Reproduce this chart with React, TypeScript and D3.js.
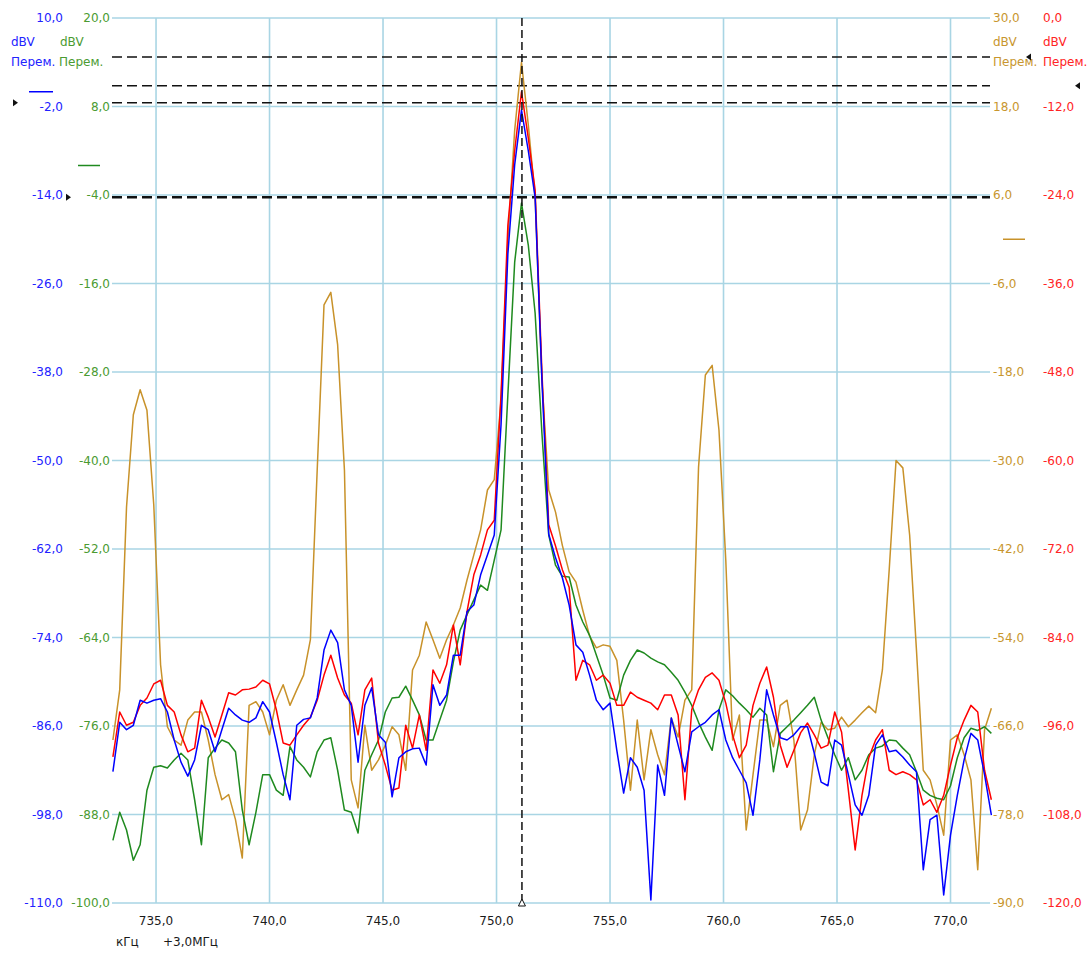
import React from "react";
import * as d3 from "d3";

// Spectrum traces sampled every 0.3 kHz starting at 733.1 kHz (offset +3.0 MHz)
const FREQ_START = 733.1;
const FREQ_STEP = 0.3;

// Blue channel, dBV
const blueTrace = [
  -92.2, -85.5, -86.5, -85.9, -82.5, -82.9, -82.5, -82.3, -84.1, -87.9,
  -90.9, -92.8, -90.6, -85.9, -86.5, -89.5, -86.5, -83.6, -84.5, -85.2,
  -85.5, -84.9, -82.7, -84.1, -88.2, -92.6, -96.0, -85.9, -85.1, -84.9,
  -82.2, -75.7, -73.0, -74.7, -81.1, -83.2, -90.9, -83.2, -80.8, -87.2,
  -88.2, -95.6, -90.3, -89.5, -89.1, -89.0, -91.3, -80.4, -83.2, -81.8,
  -76.4, -76.4, -70.5, -69.6, -65.5, -62.8, -60.1, -45.1, -22.0, -9.9,
  -2.5, -8.0, -14.3, -39.1, -60.0, -63.2, -65.9, -69.6, -75.0, -76.0,
  -79.1, -82.5, -83.8, -82.9, -89.3, -95.1, -90.3, -91.6, -94.7, -109.6,
  -91.3, -95.4, -84.9, -88.6, -92.2, -86.8, -86.1, -85.5, -84.5, -83.8,
  -87.9, -90.3, -92.0, -93.7, -98.1, -90.6, -81.1, -84.5, -87.6, -87.9,
  -87.2, -86.1, -86.1, -89.7, -93.6, -94.1, -87.9, -88.6, -92.6, -96.7,
  -98.1, -95.4, -88.6, -87.2, -89.5, -89.3, -90.2, -91.3, -92.2, -105.5,
  -98.7, -98.1, -108.9, -100.8, -95.4, -90.6, -87.0, -87.9, -92.6, -98.1,
];

// Green channel, dBV
const greenTrace = [
  -91.5, -87.7, -90.1, -94.2, -92.1, -84.7, -81.6, -81.4, -81.7, -80.6,
  -79.7, -80.6, -86.0, -92.1, -80.3, -79.0, -77.9, -78.3, -79.5, -87.4,
  -92.1, -87.7, -82.6, -82.6, -84.7, -85.4, -78.8, -80.6, -81.6, -82.9,
  -79.5, -77.9, -77.6, -82.0, -87.4, -87.7, -90.5, -82.0, -79.9, -77.9,
  -74.1, -72.2, -72.1, -70.6, -72.5, -74.5, -77.9, -77.9, -75.2, -72.5,
  -67.3, -63.0, -60.9, -58.9, -56.9, -57.6, -53.5, -49.4, -31.1, -13.1,
  -5.1, -10.8, -20.0, -36.3, -50.1, -54.2, -55.7, -55.8, -59.6, -61.9,
  -63.7, -66.4, -69.1, -72.2, -72.5, -69.1, -67.1, -65.7, -66.1, -66.8,
  -67.3, -67.7, -68.7, -69.8, -71.4, -73.2, -75.5, -77.5, -79.3, -73.8,
  -71.1, -71.9, -72.9, -73.8, -74.8, -73.6, -74.5, -82.2, -77.0, -76.1,
  -75.2, -74.2, -73.2, -72.1, -75.2, -77.6, -79.9, -82.0, -80.3, -83.3,
  -82.0, -79.9, -79.0, -78.7, -77.9, -78.0, -79.0, -79.9, -82.2, -84.7,
  -85.4, -85.8, -86.0, -84.1, -80.3, -77.6, -76.3, -76.6, -76.1, -77.0,
];

// Orange channel, dBV
const orangeTrace = [
  -67.9, -61.1, -36.3, -23.8, -20.4, -23.2, -36.0, -57.7, -66.1, -67.9,
  -68.6, -65.2, -64.1, -64.1, -67.9, -72.6, -76.0, -75.3, -78.7, -83.9,
  -63.2, -62.7, -64.1, -67.2, -62.5, -60.4, -63.2, -61.1, -59.1, -54.3,
  -31.3, -8.9, -7.2, -14.3, -31.3, -73.3, -77.1, -65.9, -72.0, -70.6,
  -68.6, -66.1, -67.2, -72.0, -58.4, -56.4, -51.9, -54.3, -56.8, -54.3,
  -52.3, -50.0, -46.2, -42.8, -39.4, -34.0, -32.6, -21.8, -0.1, 14.8,
  24.0, 15.5, 5.7, -19.1, -34.0, -37.0, -41.5, -45.1, -46.5, -50.3,
  -53.8, -55.4, -55.0, -55.2, -57.1, -65.2, -74.7, -65.2, -73.3, -66.5,
  -69.9, -72.6, -64.9, -67.5, -62.5, -61.1, -30.9, -18.4, -17.1, -25.9,
  -43.5, -67.9, -64.5, -80.1, -72.6, -65.2, -65.2, -68.8, -63.2, -62.5,
  -67.9, -80.1, -77.4, -69.9, -65.5, -66.5, -66.3, -64.8, -66.1, -65.2,
  -64.2, -63.3, -64.2, -58.4, -44.8, -30.0, -31.0, -40.1, -55.7, -72.0,
  -73.3, -76.7, -80.8, -67.9, -67.2, -69.9, -73.3, -85.5, -66.5, -63.6,
];

// Red channel, dBV
const redTrace = [
  -100.2, -94.1, -95.9, -95.5, -93.2, -92.2, -90.3, -89.8, -93.2, -94.1,
  -97.2, -99.5, -99.0, -92.5, -94.8, -97.5, -94.5, -91.5, -91.8, -91.1,
  -91.0, -90.7, -89.8, -90.3, -93.8, -98.3, -98.6, -97.2, -95.9, -94.8,
  -92.5, -89.1, -86.4, -89.5, -91.8, -92.9, -97.2, -91.1, -89.5, -98.3,
  -101.3, -104.7, -104.4, -95.9, -99.0, -94.5, -99.3, -88.4, -90.2, -87.7,
  -82.3, -87.7, -80.5, -75.5, -72.8, -69.4, -68.1, -51.0, -28.1, -18.0,
  -10.0, -16.3, -23.3, -48.0, -68.7, -71.6, -74.8, -77.2, -89.8, -87.1,
  -87.7, -89.8, -89.1, -90.2, -93.2, -93.2, -91.4, -92.1, -92.5, -92.9,
  -93.8, -91.8, -91.8, -94.5, -106.0, -93.8, -91.1, -89.4, -88.8, -89.8,
  -92.9, -97.2, -100.3, -98.6, -93.2, -90.2, -88.0, -92.1, -98.6, -101.6,
  -99.3, -96.9, -95.6, -97.2, -99.0, -98.6, -94.1, -96.8, -104.7, -112.8,
  -105.4, -100.3, -97.9, -96.5, -102.0, -102.6, -102.2, -102.6, -103.3, -106.7,
  -106.0, -107.7, -105.4, -101.3, -97.6, -95.2, -93.2, -94.1, -102.0, -106.0,
];

const frequencies = blueTrace.map((_, i) => FREQ_START + i * FREQ_STEP);

// Axis tick values
const freqTicks = [735, 740, 745, 750, 755, 760, 765, 770];
const blueTicks = [10, -2, -14, -26, -38, -50, -62, -74, -86, -98, -110];
const greenTicks = [20, 8, -4, -16, -28, -40, -52, -64, -76, -88, -100];
const orangeTicks = [30, 18, 6, -6, -18, -30, -42, -54, -66, -78, -90];
const redTicks = [0, -12, -24, -36, -48, -60, -72, -84, -96, -108, -120];

// Reference marker levels (dBV, each on its own scale) and the cursor frequency
const markerLevels = { blue: -1.5, green: -4.3, orange: 24.7, red: -9.2 };
const cursorFreq = 751.12;

const W = 1091;
const H = 954;
const PLOT = { left: 112, right: 990, top: 18, bottom: 903 };
const FONT = "'DejaVu Sans', Verdana, sans-serif";
const FS = 12;

const fmt = (v: number) => v.toFixed(1).replace(".", ",");

type Channel = {
  key: "blue" | "green" | "orange" | "red";
  values: number[];
  ticks: number[];
  stroke: string;
  text: string;
  side: "left" | "right";
  labelX: number;
  headX: number;
  zeroMark: [number, number];
  markerX: number;
};

const channels: Channel[] = [
  { key: "orange", values: orangeTrace, ticks: orangeTicks, stroke: "#c8922a", text: "#c8962e", side: "right", labelX: 993, headX: 993, zeroMark: [1003, 1025], markerX: 1031 },
  { key: "green", values: greenTrace, ticks: greenTicks, stroke: "#1f8a1f", text: "#4b9b32", side: "left", labelX: 110, headX: 59, zeroMark: [78, 100], markerX: 66 },
  { key: "red", values: redTrace, ticks: redTicks, stroke: "#ff0000", text: "#ff2424", side: "right", labelX: 1043, headX: 1043, zeroMark: [1053, 1075], markerX: 1080 },
  { key: "blue", values: blueTrace, ticks: blueTicks, stroke: "#0000ff", text: "#2222ff", side: "left", labelX: 63, headX: 11, zeroMark: [29, 53], markerX: 13 },
];

export default function App() {
  const x = d3.scaleLinear().domain([733.06, 771.74]).range([PLOT.left, PLOT.right]);
  const yScale = (ticks: number[]) =>
    d3.scaleLinear().domain([ticks[ticks.length - 1], ticks[0]]).range([PLOT.bottom, PLOT.top]);

  const gridY = yScale(blueTicks);
  const cursorX = x(cursorFreq);

  return (
    <svg
      width={W}
      height={H}
      viewBox={`0 0 ${W} ${H}`}
      style={{ position: "absolute", left: 0, top: 0, background: "#fff" }}
      fontFamily={FONT}
    >
      {/* grid */}
      <g stroke="#a9d5e4" strokeWidth={1.6}>
        {blueTicks.map((t) => (
          <line key={"h" + t} x1={PLOT.left} x2={PLOT.right} y1={gridY(t)} y2={gridY(t)} />
        ))}
        {freqTicks.map((f) => (
          <line key={"v" + f} x1={x(f)} x2={x(f)} y1={PLOT.top} y2={PLOT.bottom} />
        ))}
      </g>

      {/* frequency axis */}
      <g fontSize={FS} fill="#1a1a1a" textAnchor="middle">
        {freqTicks.map((f) => (
          <text key={f} x={x(f)} y={921} dominantBaseline="central">
            {fmt(f)}
          </text>
        ))}
      </g>
      <text x={116} y={942} fontSize={FS} fill="#1a1a1a" dominantBaseline="central">кГц</text>
      <text x={163} y={942} fontSize={FS} fill="#1a1a1a" dominantBaseline="central">+3,0МГц</text>

      {/* per-channel level axes, headers and zero marks */}
      {channels.map((c) => {
        const y = yScale(c.ticks);
        const anchor = c.side === "left" ? "end" : "start";
        return (
          <g key={"ax" + c.key} fill={c.text} fontSize={FS}>
            {c.ticks.map((t) => (
              <text key={t} x={c.labelX} y={y(t)} textAnchor={anchor} dominantBaseline="central">
                {fmt(t)}
              </text>
            ))}
            <text x={c.headX + (c.key === "green" ? 1 : 0)} y={42} dominantBaseline="central">
              dBV
            </text>
            <text x={c.headX} y={62} dominantBaseline="central">
              Перем.
            </text>
            {y(0) > PLOT.top + 1 && (
              <line
                x1={c.zeroMark[0]}
                x2={c.zeroMark[1]}
                y1={y(0)}
                y2={y(0)}
                stroke={c.stroke}
                strokeWidth={1.5}
              />
            )}
          </g>
        );
      })}

      {/* marker reference levels */}
      {channels.map((c) => {
        const y = yScale(c.ticks)(markerLevels[c.key]);
        const thick = c.key === "green";
        const m = c.markerX;
        const tri =
          c.side === "left"
            ? `M${m},${y - 3.5} L${m + 5},${y} L${m},${y + 3.5} Z`
            : `M${m},${y - 3.5} L${m - 5},${y} L${m},${y + 3.5} Z`;
        return (
          <g key={"mk" + c.key}>
            <line
              x1={PLOT.left}
              x2={PLOT.right}
              y1={y}
              y2={y}
              stroke="#111"
              strokeWidth={thick ? 2.4 : 1.5}
              strokeDasharray="10 5"
            />
            <path d={tri} fill="#111" />
          </g>
        );
      })}

      {/* traces */}
      {channels.map((c) => {
        const y = yScale(c.ticks);
        const line = d3
          .line<number>()
          .x((_, i) => x(frequencies[i]))
          .y((v) => y(v));
        return (
          <path
            key={"tr" + c.key}
            d={line(c.values) ?? ""}
            fill="none"
            stroke={c.stroke}
            strokeWidth={1.5}
            strokeLinejoin="round"
          />
        );
      })}

      {/* cursor */}
      <line
        x1={cursorX}
        x2={cursorX}
        y1={PLOT.top}
        y2={PLOT.bottom}
        stroke="#111"
        strokeWidth={1.5}
        strokeDasharray="8 4"
      />
      <path
        d={`M${cursorX - 3.5},${PLOT.bottom + 3} L${cursorX},${PLOT.bottom - 4} L${cursorX + 3.5},${PLOT.bottom + 3} Z`}
        fill="#fff"
        stroke="#111"
        strokeWidth={1}
      />
    </svg>
  );
}
